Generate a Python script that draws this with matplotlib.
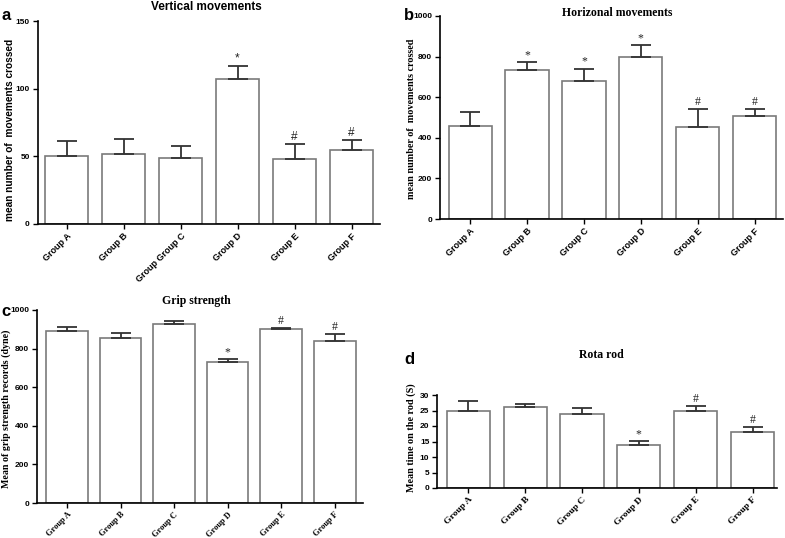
import matplotlib.pyplot as plt

groups = ["Group A", "Group B", "Group C", "Group D", "Group E", "Group F"]
groups_a = ["Group A", "Group B", "Group Group C", "Group D", "Group E", "Group F"]

vert_mean = [50, 52, 49, 107, 48, 55]
vert_err = [11, 11, 9, 10, 11, 7]
vert_marks = ["", "", "", "*", "#", "#"]

horiz_mean = [457, 735, 680, 800, 455, 506]
horiz_err = [70, 38, 61, 56, 85, 37]
horiz_marks = ["", "*", "*", "*", "#", "#"]

grip_mean = [893, 855, 925, 730, 900, 840]
grip_err = [18, 25, 16, 15, 9, 35]
grip_marks = ["", "", "", "*", "#", "#"]

rota_mean = [25, 26, 24, 14, 25, 18]
rota_err = [3.0, 1.2, 1.7, 1.2, 1.6, 1.8]
rota_marks = ["", "", "", "*", "#", "#"]

SANS = "Liberation Sans"
SERIF = "Liberation Serif"
W, H = 785, 538


def panel(rect, labels, mean, err, marks, ymax, yticks, title, title_xy,
          ylabel, ylab_xy, ylab_size, letter, letter_xy, tfont, yfont,
          xfont, xsize, markfont, xlim, width, mark_off):
    x0, y0, x1, y1 = rect
    ax = fig.add_axes([x0 / W, 1 - y1 / H, (x1 - x0) / W, (y1 - y0) / H])
    pos = list(range(len(mean)))
    ax.bar(pos, mean, width=width, color="white", edgecolor="#7a7a7a",
           linewidth=1.2, zorder=2)
    ax.errorbar(pos, mean, yerr=[[0] * len(err), err], fmt="none",
                ecolor="#333333", elinewidth=1.3, capsize=7, capthick=1.3,
                zorder=3)
    for p, m, e, s in zip(pos, mean, err, marks):
        if s:
            ax.text(p, m + e + mark_off, s, ha="center", va="bottom",
                    fontsize=8.5, family=markfont, color="#222222")
    ax.set_xlim(*xlim)
    ax.set_ylim(0, ymax)
    ax.set_yticks(yticks)
    ax.set_xticks(pos)
    ax.set_xticklabels(labels, rotation=45, ha="right",
                       rotation_mode="anchor", fontsize=xsize,
                       family=xfont, fontweight="bold")
    for t in ax.get_yticklabels():
        t.set_family(SANS)
        t.set_fontweight("bold")
        t.set_fontsize(6)
    ax.spines["top"].set_visible(False)
    ax.spines["right"].set_visible(False)
    ax.spines["left"].set_linewidth(1.2)
    ax.spines["bottom"].set_linewidth(1.2)
    ax.tick_params(axis="both", length=3.5, width=1, pad=2)
    fig.text(ylab_xy[0] / W, 1 - ylab_xy[1] / H, ylabel, rotation=90,
             ha="center", va="center", family=yfont, fontweight="bold",
             fontsize=ylab_size)
    fig.text(title_xy[0] / W, 1 - title_xy[1] / H, title,
             ha="center", va="center", family=tfont, fontweight="bold",
             fontsize=8.5)
    fig.text(letter_xy[0] / W, 1 - letter_xy[1] / H, letter, ha="left",
             va="center", family=SANS, fontweight="bold", fontsize=12)
    return ax


fig = plt.figure(figsize=(7.85, 5.38), dpi=100)

panel((37.5, 21, 380, 224), groups_a, vert_mean, vert_err, vert_marks,
      150, [0, 50, 100, 150], "Vertical movements", (206, 7),
      "mean number of  movements crossed", (10, 130), 7.3, "a", (1, 16),
      SANS, SANS, SANS, 6.5, SANS, (-0.51, 5.5), 0.76, 1)

panel((440, 16, 783, 219), groups, horiz_mean, horiz_err, horiz_marks,
      1000, [0, 200, 400, 600, 800, 1000], "Horizonal movements", (617, 13),
      "mean number of  movements crossed", (412, 119), 7.3, "b", (404, 16),
      SERIF, SERIF, SANS, 6.5, SERIF, (-0.53, 5.5), 0.76, 5)

panel((37, 310, 363, 503), groups, grip_mean, grip_err, grip_marks,
      1000, [0, 200, 400, 600, 800, 1000], "Grip strength", (196, 301),
      "Mean of grip strength records (dyne)", (6, 409), 7.2, "c", (1, 311),
      SERIF, SERIF, SERIF, 6, SERIF, (-0.56, 5.53), 0.78, 5)

panel((437, 395, 777, 488), groups, rota_mean, rota_err, rota_marks,
      30, [0, 5, 10, 15, 20, 25, 30], "Rota rod", (601, 355),
      "Mean time on the rod (S)", (411, 438), 7.3, "d", (404, 360),
      SERIF, SERIF, SERIF, 6.8, SERIF, (-0.55, 5.43), 0.76, 0.2)

fig.savefig("out.png", dpi=100)
